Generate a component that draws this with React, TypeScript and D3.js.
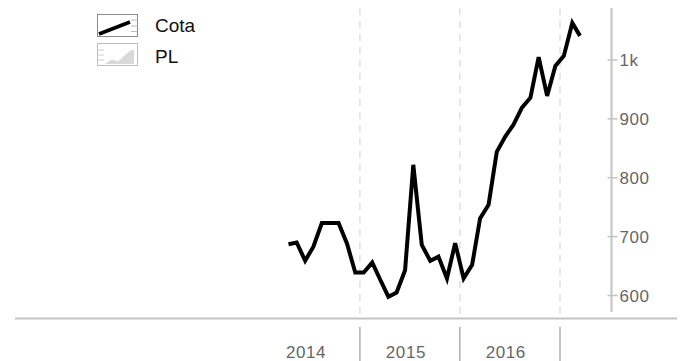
import React, { useEffect, useRef } from 'react';
import * as d3 from 'd3';

// Monthly "Cota" values, Apr 2014 - Mar 2017
const cotaMonths: string[] = [
    '2014-04', '2014-05', '2014-06', '2014-07', '2014-08', '2014-09', '2014-10', '2014-11', '2014-12',
    '2015-01', '2015-02', '2015-03', '2015-04', '2015-05', '2015-06', '2015-07', '2015-08', '2015-09',
    '2015-10', '2015-11', '2015-12',
    '2016-01', '2016-02', '2016-03', '2016-04', '2016-05', '2016-06', '2016-07', '2016-08', '2016-09',
    '2016-10', '2016-11', '2016-12',
    '2017-01', '2017-02', '2017-03'
];
const cotaValues: number[] = [
    687, 690, 659, 683, 723, 723, 723, 688, 639,
    639, 656, 628, 598, 605, 643, 822, 686, 659, 666, 629, 689,
    629, 652, 731, 754, 844, 870, 890, 919, 936, 1005, 939, 990,
    1007, 1063, 1041
];

const yTicks: number[] = [600, 700, 800, 900, 1000];
const yearLabels: string[] = ['2014', '2015', '2016'];
const legendLabels: string[] = ['Cota', 'PL'];

const App: React.FC = () => {
    const svgRef = useRef<SVGSVGElement>(null);

    useEffect(() => {
        if (!svgRef.current) return;
        const svg = d3.select(svgRef.current);
        svg.selectAll('*').remove();

        const parse = d3.utcParse('%Y-%m-%d');
        const data = cotaMonths.map((m, i) => ({ date: parse(m + '-15') as Date, value: cotaValues[i] }));

        const xScale = d3.scaleUtc()
            .domain([Date.UTC(2014, 0, 1), Date.UTC(2017, 0, 1)])
            .range([260, 560]);

        const yScale = d3.scaleLinear()
            .domain([600, 1000])
            .range([295.5, 60]);

        const font = '"Liberation Sans", Arial, sans-serif';

        // Dashed vertical grid at year boundaries
        const yearBounds = [2015, 2016, 2017].map(y => new Date(Date.UTC(y, 0, 1)));
        svg.append('g')
            .selectAll('line')
            .data(yearBounds)
            .enter().append('line')
            .attr('x1', d => xScale(d)).attr('x2', d => xScale(d))
            .attr('y1', 8).attr('y2', 317)
            .attr('stroke', '#e0e0e0')
            .attr('stroke-width', 1.5)
            .attr('stroke-dasharray', '7,6');

        // Bottom axis line
        svg.append('line')
            .attr('x1', 15).attr('x2', 677)
            .attr('y1', 318.5).attr('y2', 318.5)
            .attr('stroke', '#c4c4c4')
            .attr('stroke-width', 2);

        // Year separators below axis
        svg.append('g')
            .selectAll('line')
            .data(yearBounds)
            .enter().append('line')
            .attr('x1', d => xScale(d)).attr('x2', d => xScale(d))
            .attr('y1', 327).attr('y2', 361)
            .attr('stroke', '#b0b0b0')
            .attr('stroke-width', 1.5);

        // Year labels
        svg.append('g')
            .selectAll('text')
            .data(yearLabels)
            .enter().append('text')
            .attr('x', d => xScale(new Date(Date.UTC(+d, 0, 1))) + 46)
            .attr('y', 358)
            .attr('text-anchor', 'middle')
            .attr('font-family', font)
            .attr('font-size', 17)
            .attr('letter-spacing', 0.6)
            .attr('fill', '#666')
            .text(d => d);

        // Right y axis
        const axisX = 611.5;
        svg.append('line')
            .attr('x1', axisX).attr('x2', axisX)
            .attr('y1', 8).attr('y2', 312)
            .attr('stroke', '#c4c4c4')
            .attr('stroke-width', 2);

        const yt = svg.append('g');
        yt.selectAll('line')
            .data(yTicks)
            .enter().append('line')
            .attr('x1', axisX - 4).attr('x2', axisX + 6)
            .attr('y1', d => yScale(d)).attr('y2', d => yScale(d))
            .attr('stroke', '#c4c4c4')
            .attr('stroke-width', 1.5);
        yt.selectAll('text')
            .data(yTicks)
            .enter().append('text')
            .attr('x', axisX + 8)
            .attr('y', d => yScale(d) + 6)
            .attr('font-family', font)
            .attr('font-size', 17)
            .attr('letter-spacing', 0.6)
            .attr('fill', '#666')
            .text(d => (d >= 1000 ? d / 1000 + 'k' : String(d)));

        // Cota line
        const line = d3.line<{ date: Date; value: number }>()
            .x(d => xScale(d.date))
            .y(d => yScale(d.value));

        svg.append('path')
            .datum(data)
            .attr('fill', 'none')
            .attr('stroke', '#000')
            .attr('stroke-width', 4)
            .attr('stroke-linejoin', 'miter')
            .attr('d', line);

        // Legend
        const lg = svg.append('g');
        // Cota icon
        lg.append('rect')
            .attr('x', 97.5).attr('y', 14.5).attr('width', 40).attr('height', 22)
            .attr('fill', '#fff').attr('stroke', '#8c8c8c').attr('stroke-width', 1);
        [20, 26, 31.5].forEach(y => {
            lg.append('line')
                .attr('x1', 131).attr('x2', 137.5).attr('y1', y).attr('y2', y)
                .attr('stroke', '#bbb').attr('stroke-width', 1);
        });
        lg.append('line')
            .attr('x1', 99).attr('y1', 34)
            .attr('x2', 130).attr('y2', 22)
            .attr('stroke', '#000').attr('stroke-width', 3.5);

        // PL icon
        lg.append('rect')
            .attr('x', 97.5).attr('y', 43.5).attr('width', 40).attr('height', 22)
            .attr('fill', '#fff').attr('stroke', '#bdbdbd').attr('stroke-width', 1);
        [50, 55, 60].forEach(y => {
            lg.append('line')
                .attr('x1', 97.5).attr('x2', 104).attr('y1', y).attr('y2', y)
                .attr('stroke', '#ccc').attr('stroke-width', 1);
        });
        lg.append('polygon')
            .attr('points', '105,64 111.5,59.5 118,61.5 125,55 131.5,50 134,50 134,64')
            .attr('fill', '#d9d9d9');

        lg.selectAll('text')
            .data(legendLabels)
            .enter().append('text')
            .attr('x', 155)
            .attr('y', (_d, i) => 32 + i * 31)
            .attr('font-family', font)
            .attr('font-size', 19)
            .attr('fill', '#111')
            .text(d => d);
    }, []);

    return (
        <div style={{ position: 'absolute', left: 0, top: 0 }}>
            <svg ref={svgRef} width={688} height={361} style={{ display: 'block' }}></svg>
        </div>
    );
};

export default App;
